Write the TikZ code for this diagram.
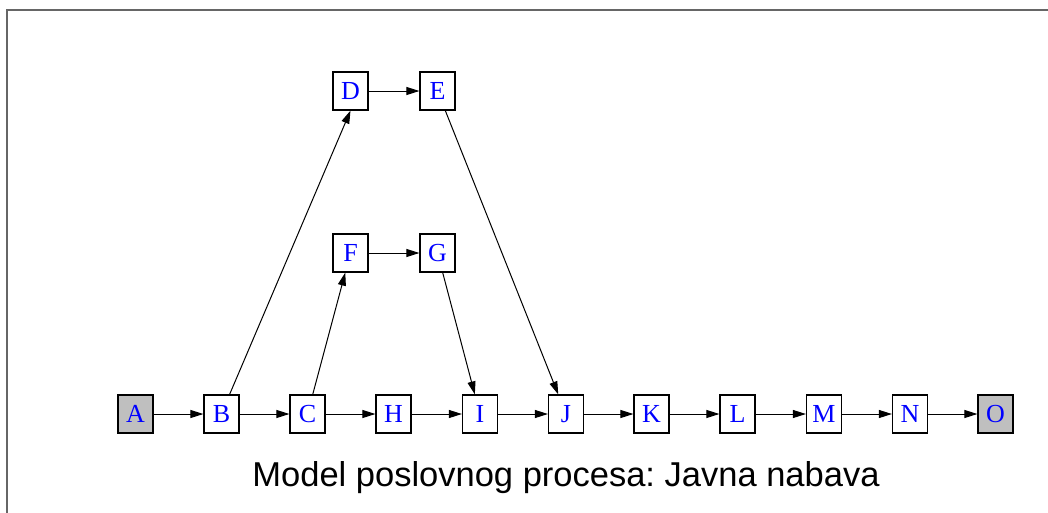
\documentclass[tikz,border=0pt]{standalone}
\usepackage{fontspec}
\setmainfont{Liberation Serif}
\newfontfamily\capfont{Liberation Sans}
\usetikzlibrary{arrows.meta}
\frenchspacing
\begin{document}
\begin{tikzpicture}[x=1pt,y=-1pt,
  box/.style={draw=black,line width=1.2pt,fill=white,minimum width=35pt,minimum height=38pt,inner sep=0pt,text=blue,font=\fontsize{26}{26}\selectfont},
  endbox/.style={box,fill=black!25},
  conn/.style={draw,line width=1pt,-{Triangle[length=13pt,width=8pt]}}]
\useasboundingbox (0,0) rectangle (1048,512);
\begin{scope}
\clip (0,0) rectangle (1048,512);
\draw[line width=2pt,color=black!60] (7,10) rectangle (1070,540);
\end{scope}
\node[endbox] (A) at (135.5,414) {A};
\node[box] (B) at (221.5,414) {B};
\node[box] (C) at (307.5,414) {C};
\node[box] (H) at (393.5,414) {H};
\node[box] (I) at (480,414) {I};
\node[box] (J) at (566,414) {J};
\node[box] (K) at (651.5,414) {K};
\node[box] (L) at (737.5,414) {L};
\node[box] (M) at (824,414) {M};
\node[box] (N) at (910,414) {N};
\node[endbox] (O) at (995.5,414) {O};
\node[box] (D) at (350.5,91) {D};
\node[box] (E) at (437.5,91) {E};
\node[box] (F) at (350.5,253) {F};
\node[box] (G) at (437.5,253) {G};
\node[font=\capfont\fontsize{34.5}{34.5}\selectfont] (cap) at (566,478) {Model poslovnog procesa: Javna nabava};
\foreach \a/\b in {A/B,B/C,C/H,H/I,I/J,J/K,K/L,L/M,M/N,N/O,D/E,F/G}
  \draw[conn] (\a) -- (\b);
\draw[conn] (B.north east) ++(-10,0) coordinate (b1) (b1) -- (D.south);
\draw[conn] (C) -- (F);
\draw[conn] (G) -- (I);
\draw[conn] (E) -- (J);
\end{tikzpicture}
\end{document}
